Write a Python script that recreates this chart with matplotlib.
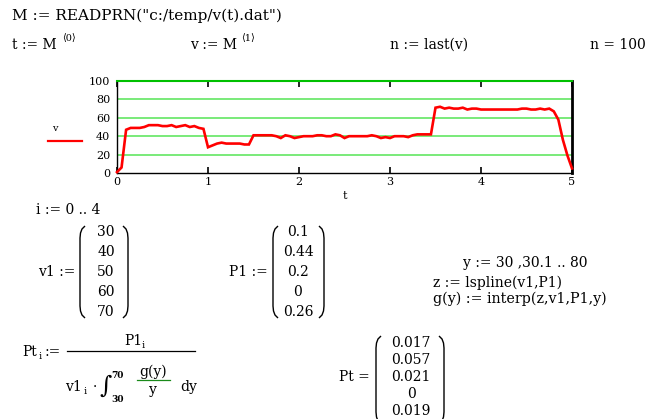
import numpy as np
import matplotlib
matplotlib.use("Agg")
import matplotlib.pyplot as plt

# ---------------- data ----------------
v_values = [1, 6, 47, 49, 49, 49, 50, 52, 52, 52,
            51, 51, 52, 50, 51, 52, 50, 51, 49, 48,
            28, 30, 32, 33, 32, 32, 32, 32, 31, 31,
            41, 41, 41, 41, 41, 40, 38, 41, 40, 38,
            39, 40, 40, 40, 41, 41, 40, 40, 42, 41,
            38, 40, 40, 40, 40, 40, 41, 40, 38, 39,
            38, 40, 40, 40, 39, 41, 42, 42, 42, 42,
            71, 72, 70, 71, 70, 70, 71, 69, 70, 70,
            69, 69, 69, 69, 69, 69, 69, 69, 69, 70,
            70, 69, 69, 70, 69, 70, 67, 58, 36, 19,
            5]
t_values = np.round(np.arange(len(v_values)) * 0.05, 2)
x_ticks = [0, 1, 2, 3, 4, 5]
y_ticks = [0, 20, 40, 60, 80, 100]
v1 = [30, 40, 50, 60, 70]
P1 = [0.1, 0.44, 0.2, 0, 0.26]
Pt = [0.017, 0.057, 0.021, 0, 0.019]

W, H = 657, 419
FAM = ['DejaVu Serif', 'DejaVu Sans', 'Noto Sans CJK SC']
plt.rcParams['font.family'] = FAM

fig = plt.figure(figsize=(W / 100, H / 100), dpi=100)
fig.patch.set_facecolor('white')

# overlay axes in pixel coordinates
bg = fig.add_axes([0, 0, 1, 1], zorder=0)
bg.set_xlim(0, W)
bg.set_ylim(H, 0)
bg.axis('off')

FS = 10


def T(x, y, s, size=FS, ha='left', va='center', **kw):
    bg.text(x, y, s, fontsize=size, ha=ha, va=va, family=FAM, **kw)


def paren(x, top, bot, side):
    w = 5
    if side == 'left':
        xs = [x + w, x + 2, x + 0.5, x, x, x + 0.5, x + 2, x + w]
    else:
        xs = [x - w, x - 2, x - 0.5, x, x, x - 0.5, x - 2, x - w]
    ys = [top, top + 3, top + 7, top + 12, bot - 12, bot - 7, bot - 3, bot]
    bg.plot(xs, ys, color='black', lw=1.0, solid_capstyle='butt')


# ---------------- header ----------------
T(12, 16, 'M := READPRN("c:/temp/v(t).dat")', size=11)
T(12, 45, 't := M')
T(62, 39, '⟨0⟩', size=7)
T(190, 45, 'v := M')
T(241, 39, '⟨1⟩', size=7)
T(390, 45, 'n := last(v)')
T(590, 45, 'n = 100')

# ---------------- chart ----------------
x0, x1, y0, y1 = 117, 572, 81, 173
ax = fig.add_axes([x0 / W, 1 - y1 / H, (x1 - x0) / W, (y1 - y0) / H], zorder=2)
ax.set_xlim(0, 5)
ax.set_ylim(0, 100)
for yy in y_ticks[1:-1]:
    ax.axhline(yy, color='#6ee86e', lw=1.3, zorder=1)
ax.plot(t_values, v_values, color='#ff0000', lw=1.9, zorder=3,
        solid_joinstyle='miter', clip_on=False)
ax.set_xticks(x_ticks)
ax.set_xticklabels([str(v) for v in x_ticks])
ax.set_yticks(y_ticks)
ax.set_yticklabels([str(v) for v in y_ticks])
ax.tick_params(axis='x', direction='in', length=4, width=1.2, top=True,
               pad=3, labelsize=8, colors='black')
ax.tick_params(axis='y', length=0, pad=5, labelsize=8)
for lab in ax.get_xticklabels() + ax.get_yticklabels():
    lab.set_family(FAM)
ax.spines['top'].set_color('#00c000')
ax.spines['top'].set_linewidth(1.5)
ax.spines['left'].set_linewidth(1.0)
ax.spines['bottom'].set_linewidth(1.0)
ax.spines['right'].set_linewidth(2.0)
ax.patch.set_alpha(0)

# legend-ish
T(55, 128, 'v', size=7, ha='center')
bg.plot([48, 82], [141, 141], color='#ff0000', lw=1.6)
T(345, 196, 't', size=8, ha='center')

# ---------------- lower part ----------------
T(36, 210, 'i := 0 .. 4')

T(75, 272, 'v1 :=', ha='right')
paren(80, 226, 318, 'left')
paren(128, 226, 318, 'right')
rows5 = [232, 252, 272, 292, 312]
for val, yy in zip(v1, rows5):
    T(106, yy, f'{val:g}', ha='center')

T(268, 272, 'P1 :=', ha='right')
paren(273, 226, 318, 'left')
paren(324, 226, 318, 'right')
for val, yy in zip(P1, rows5):
    T(298, yy, f'{val:g}', ha='center')

T(463, 263, 'y := 30 ,30.1 .. 80')
T(433, 283, 'z := lspline(v1,P1)')
T(433, 299, 'g(y) := interp(z,v1,P1,y)', size=10.3)

# Pt_i definition
T(22, 352, 'Pt')
T(39, 356, 'i', size=7)
T(45, 352, ':=')
T(124, 341, 'P1', ha='left')
T(142, 345, 'i', size=7)
bg.plot([67, 195], [351, 351], color='black', lw=0.9)
T(65, 387, 'v1')
T(84, 391, 'i', size=7)
T(93, 387, '·')
T(106, 386, '∫', size=17, ha='center')
T(111, 375, '70', size=6.5, weight='bold')
T(111, 399, '30', size=6.5, weight='bold')
T(153, 372, 'g(y)', ha='center')
bg.plot([137, 170], [380, 380], color='#1a8a1a', lw=0.9)
T(153, 390, 'y', ha='center')
T(180, 387, 'dy')

# Pt result
T(370, 377, 'Pt =', ha='right')
paren(376, 336, 424, 'left')
paren(444, 336, 424, 'right')
rows_pt = [343, 360, 377, 394, 411]
for val, yy in zip(Pt, rows_pt):
    T(411, yy, f'{val:g}', ha='center')

fig.savefig('out.png', dpi=100, facecolor='white')
